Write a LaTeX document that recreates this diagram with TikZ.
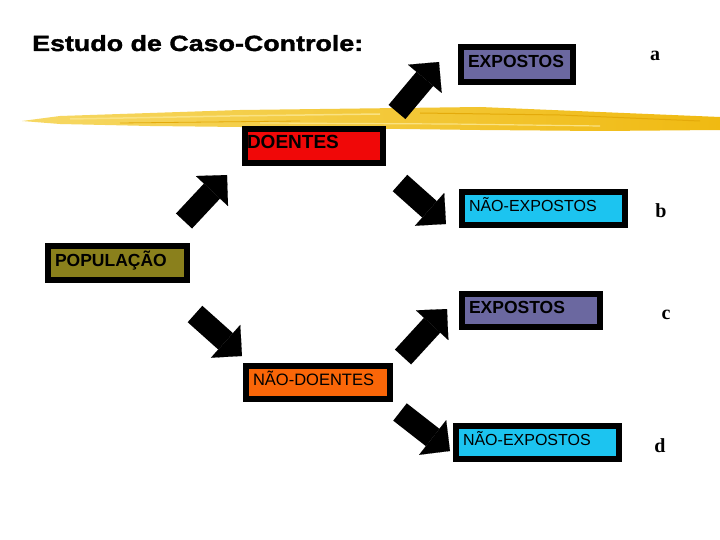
\documentclass[tikz,border=0pt]{standalone}
\usepackage{fontspec}
\setmainfont{Liberation Sans}
\newfontfamily\serifab{Liberation Serif}
\newfontfamily\titlefont[FakeStretch=1.22, BoldFeatures={FakeBold=1.6}]{Liberation Sans}
\usetikzlibrary{arrows.meta}
\definecolor{expc}{RGB}{107,104,160}
\definecolor{nexc}{RGB}{28,196,240}
\definecolor{doec}{RGB}{240,8,8}
\definecolor{popc}{RGB}{138,128,28}
\definecolor{ndoc}{RGB}{250,102,8}
\definecolor{hlA}{RGB}{246,216,100}
\definecolor{hlB}{RGB}{240,186,18}
\definecolor{hlC}{RGB}{250,226,130}
\definecolor{hlD}{RGB}{228,170,10}
\begin{document}
\begin{tikzpicture}[x=1pt,y=-1pt,
  box/.style={draw=black, line width=6.5pt, rectangle, inner xsep=7pt, inner ysep=0pt,
    align=left, text height=11pt, text depth=5pt},
  boldlbl/.style={font=\bfseries\fontsize{17.5}{19}\selectfont},
  reglbl/.style={font=\fontsize{16}{18}\selectfont},
  blockarrow/.style={line width=22pt, draw=black, -{Triangle[length=22pt,width=44pt,line width=0.1pt]}},
  letter/.style={font=\serifab\bfseries\fontsize{20}{22}\selectfont, inner sep=0pt}]
\useasboundingbox (0,0) rectangle (720,540);
\fill[white] (0,0) rectangle (720,540);

% yellow highlighter stroke
\shade[left color=hlA, right color=hlB]
  (22,121) -- (60,116) -- (150,113) -- (240,110) -- (400,108) -- (480,107) -- (600,112) -- (720,117)
  -- (720,130) -- (600,131) -- (480,130) -- (400,129) -- (240,127) -- (150,126) -- (60,124) -- cycle;
\draw[hlC, line width=1.5pt] (70,119) -- (230,116) -- (380,114);
\draw[hlC, line width=1.2pt] (260,123) -- (450,124) -- (600,126);
\draw[hlD, line width=1pt] (420,113) -- (560,115) -- (700,121);
\draw[hlD, line width=0.8pt] (120,123) -- (300,121);

% title
\node[anchor=base west, inner sep=0pt, font=\titlefont\bfseries\fontsize{22}{24}\selectfont] (title) at (32,51) {Estudo de Caso-Controle:};

% boxes
\node[box, fill=expc, boldlbl, text width=98pt, minimum height=35pt] (expA) at (517,64.5) {EXPOSTOS};
\node[box, fill=nexc, reglbl, text width=149pt, minimum height=33pt] (nexA) at (543.5,208.5) {NÃO-EXPOSTOS};
\node[box, fill=doec, font=\bfseries\fontsize{19}{21}\selectfont, inner xsep=2pt, text width=134pt, minimum height=34pt] (doe) at (314,146) {DOENTES};
\node[box, fill=popc, boldlbl, text width=125pt, minimum height=34pt] (pop) at (117.5,263) {POPULAÇÃO};
\node[box, fill=expc, boldlbl, text width=124pt, minimum height=33pt] (expB) at (531,310.5) {EXPOSTOS};
\node[box, fill=ndoc, font=\fontsize{16.5}{18}\selectfont, text width=130pt, minimum height=33pt] (ndoe) at (318,382.5) {NÃO-DOENTES};
\node[box, fill=nexc, reglbl, text width=149pt, minimum height=33pt] (nexB) at (537.5,442.5) {NÃO-EXPOSTOS};

% letters
\node[letter] (la) at (655,56) {a};
\node[letter] (lb) at (661,211) {b};
\node[letter] (lc) at (666,315) {c};
\node[letter] (ld) at (660,446) {d};

% block arrows
\coordinate (tA) at (397,112); \coordinate (hA) at (439,62);
\coordinate (tB) at (400,183); \coordinate (hB) at (446,224);
\coordinate (tC) at (184,221); \coordinate (hC) at (227,175);
\coordinate (tD) at (195,314); \coordinate (hD) at (242,356);
\coordinate (tE) at (403,357); \coordinate (hE) at (447,309);
\coordinate (tF) at (400,412); \coordinate (hF) at (450,451);
\draw[blockarrow] (tA) -- (hA);
\draw[blockarrow] (tB) -- (hB);
\draw[blockarrow] (tC) -- (hC);
\draw[blockarrow] (tD) -- (hD);
\draw[blockarrow] (tE) -- (hE);
\draw[blockarrow] (tF) -- (hF);
\end{tikzpicture}
\end{document}
